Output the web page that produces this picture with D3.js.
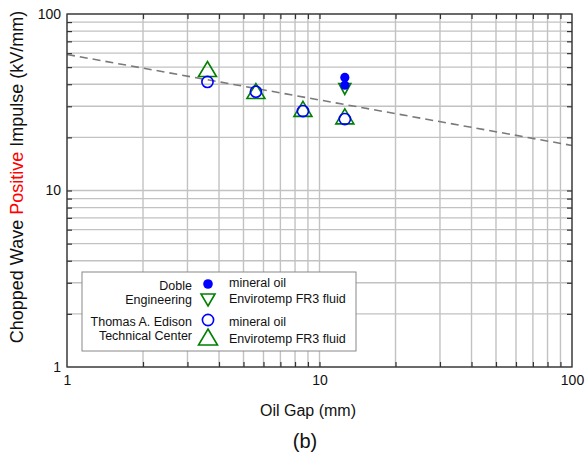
<!DOCTYPE html>
<html>
<head>
<meta charset="utf-8">
<script src="https://cdn.jsdelivr.net/npm/d3@7"></script>
<style>
  body { margin: 0; background: #fff; }
  svg text { font-family: Arial, "Liberation Sans", sans-serif; fill: #111; }
</style>
</head>
<body>
<svg id="chart" width="586" height="460"></svg>
<script>
// Axis domains and tick labels
const gapDomain = [1, 100];
const fieldDomain = [1, 100];
const gapTickLabels = [1, 10, 100];
const fieldTickLabels = [1, 10, 100];

// Thomas A. Edison Technical Center
const edisonGap = [3.6, 5.6, 8.6, 12.6];
const edisonMineral = [41.2, 36.3, 28.2, 25.4];
const edisonFR3 = [48.8, 36.6, 29.0, 26.3];

// Doble Engineering
const dobleMineralGap = [12.6, 12.6];
const dobleMineral = [43.7, 39.5];
const dobleFR3Gap = [12.6];
const dobleFR3 = [37.6];

// Power-law trend line end points
const trendGap = [1, 100];
const trendField = [59, 18];

const svg = d3.select("#chart");
const plotLeft = 67, plotRight = 572, plotTop = 14, plotBottom = 367;

const x = d3.scaleLog().domain(gapDomain).range([plotLeft, plotRight]);
const y = d3.scaleLog().domain(fieldDomain).range([plotBottom, plotTop]);

const minor = [];
for (let d = 1; d < 100; d *= 10) for (let k = 1; k <= 9; k++) minor.push(d * k);
minor.push(100);

// grid
const grid = svg.append("g").attr("stroke", "#c2c2c2").attr("stroke-width", 1.4);
minor.forEach(v => {
  grid.append("line").attr("x1", x(v)).attr("x2", x(v)).attr("y1", plotTop).attr("y2", plotBottom);
  grid.append("line").attr("x1", plotLeft).attr("x2", plotRight).attr("y1", y(v)).attr("y2", y(v));
});

// inward ticks on all four sides via d3 axes
const tickLen = 5;
const inner = minor.filter(v => v > 1 && v < 100);
svg.append("g").attr("transform", `translate(0,${plotBottom})`)
  .call(d3.axisTop(x).tickValues(inner).tickSize(tickLen).tickFormat(""))
  .call(g => g.select(".domain").remove());
svg.append("g").attr("transform", `translate(0,${plotTop})`)
  .call(d3.axisBottom(x).tickValues(inner).tickSize(tickLen).tickFormat(""))
  .call(g => g.select(".domain").remove());
svg.append("g").attr("transform", `translate(${plotLeft},0)`)
  .call(d3.axisRight(y).tickValues(inner).tickSize(tickLen).tickFormat(""))
  .call(g => g.select(".domain").remove());
svg.append("g").attr("transform", `translate(${plotRight},0)`)
  .call(d3.axisLeft(y).tickValues(inner).tickSize(tickLen).tickFormat(""))
  .call(g => g.select(".domain").remove());
svg.selectAll(".tick line").attr("stroke", "#333").attr("stroke-width", 1.2);

// tick labels
const xLab = svg.append("g").attr("transform", `translate(0,${plotBottom})`)
  .call(d3.axisBottom(x).tickValues(gapTickLabels).tickSize(0).tickPadding(8).tickFormat(d3.format("d")));
xLab.select(".domain").remove();
xLab.selectAll("text").attr("font-size", 14).attr("font-family", "Arial, 'Liberation Sans', sans-serif").attr("fill", "#111");
const yLab = svg.append("g").attr("transform", `translate(${plotLeft},0)`)
  .call(d3.axisLeft(y).tickValues(fieldTickLabels).tickSize(0).tickPadding(6).tickFormat(d3.format("d")));
yLab.select(".domain").remove();
yLab.selectAll("text").attr("font-size", 14).attr("font-family", "Arial, 'Liberation Sans', sans-serif").attr("fill", "#111");

// trend line
svg.append("path")
  .datum(trendGap.map((g, i) => [g, trendField[i]]))
  .attr("d", d3.line().x(d => x(d[0])).y(d => y(d[1])))
  .attr("fill", "none").attr("stroke", "#7a7a7a").attr("stroke-width", 1.6)
  .attr("stroke-dasharray", "8,5");

// frame
svg.append("rect").attr("x", plotLeft).attr("y", plotTop)
  .attr("width", plotRight - plotLeft).attr("height", plotBottom - plotTop)
  .attr("fill", "none").attr("stroke", "#333").attr("stroke-width", 1.3);

// marker helpers
const blue = "#0000ff", green = "#008000";
function triUp(w, h) { return `M0,${-h/2}L${w/2},${h/2}L${-w/2},${h/2}Z`; }
function triDown(w, h) { return `M0,${h/2}L${w/2},${-h/2}L${-w/2},${-h/2}Z`; }

const marks = svg.append("g");
// Edison FR3 (up triangles)
marks.selectAll(".eFR3").data(edisonGap.map((g, i) => [g, edisonFR3[i]])).join("path")
  .attr("transform", d => `translate(${x(d[0])},${y(d[1])})`)
  .attr("d", triUp(18, 15)).attr("fill", "none").attr("stroke", green).attr("stroke-width", 1.6);
// Doble FR3 (down triangles)
marks.selectAll(".dFR3").data(dobleFR3Gap.map((g, i) => [g, dobleFR3[i]])).join("path")
  .attr("transform", d => `translate(${x(d[0])},${y(d[1])})`)
  .attr("d", triDown(12, 11)).attr("fill", "none").attr("stroke", green).attr("stroke-width", 1.6);
// Edison mineral oil (open circles)
marks.selectAll(".eMin").data(edisonGap.map((g, i) => [g, edisonMineral[i]])).join("circle")
  .attr("cx", d => x(d[0])).attr("cy", d => y(d[1])).attr("r", 5.6)
  .attr("fill", "none").attr("stroke", blue).attr("stroke-width", 1.6);
// Doble mineral oil (filled circles)
marks.selectAll(".dMin").data(dobleMineralGap.map((g, i) => [g, dobleMineral[i]])).join("circle")
  .attr("cx", d => x(d[0])).attr("cy", d => y(d[1])).attr("r", 4.6)
  .attr("fill", blue);

// legend
const lg = svg.append("g");
lg.append("rect").attr("x", 82).attr("y", 272).attr("width", 274).attr("height", 79)
  .attr("fill", "#fff").attr("stroke", "#888").attr("stroke-width", 1);
const fs = 12.5;
const mx = 208, tx = 229, lx = 192;
[["Doble", 290], ["Engineering", 304], ["Thomas A. Edison", 326], ["Technical Center", 340]].forEach(([t, yy]) =>
  lg.append("text").attr("x", lx).attr("y", yy).attr("text-anchor", "end").attr("font-size", fs).text(t));
[["mineral oil", 287], ["Envirotemp FR3 fluid", 303], ["mineral oil", 326], ["Envirotemp FR3 fluid", 343]].forEach(([t, yy]) =>
  lg.append("text").attr("x", tx).attr("y", yy).attr("font-size", fs).text(t));
lg.append("circle").attr("cx", mx).attr("cy", 284).attr("r", 4.8).attr("fill", blue);
lg.append("path").attr("transform", `translate(${mx},300)`).attr("d", triDown(14, 12))
  .attr("fill", "none").attr("stroke", green).attr("stroke-width", 1.6);
lg.append("circle").attr("cx", mx).attr("cy", 320).attr("r", 5.6)
  .attr("fill", "none").attr("stroke", blue).attr("stroke-width", 1.6);
lg.append("path").attr("transform", `translate(${mx},337)`).attr("d", triUp(19, 16))
  .attr("fill", "none").attr("stroke", green).attr("stroke-width", 1.6);

// axis titles
svg.append("text").attr("x", 308).attr("y", 416).attr("text-anchor", "middle")
  .attr("font-size", 16).text("Oil Gap (mm)");
const yt = svg.append("text").attr("transform", "translate(23,177) rotate(-90)")
  .attr("text-anchor", "middle").attr("font-size", 18);
yt.append("tspan").text("Chopped Wave ");
yt.append("tspan").style("fill", "#ff0000").text("Positive");
yt.append("tspan").text(" Impulse (kV/mm)");

svg.append("text").attr("x", 305).attr("y", 448).attr("text-anchor", "middle")
  .attr("font-size", 20).text("(b)");
</script>
</body>
</html>
